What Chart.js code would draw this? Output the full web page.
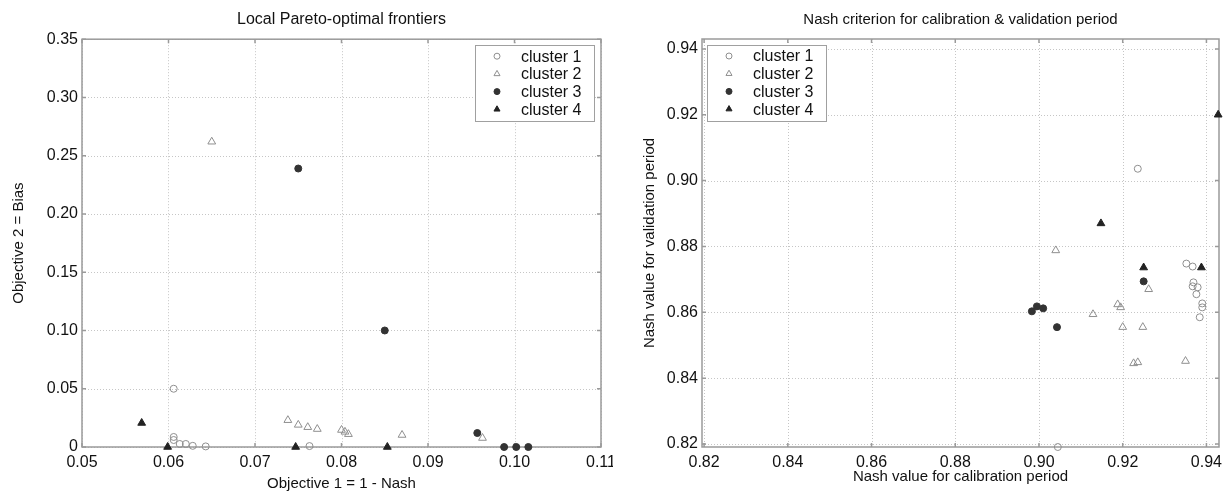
<!DOCTYPE html>
<html>
<head>
<meta charset="utf-8">
<script src="https://cdn.jsdelivr.net/npm/chart.js@4.4.1/dist/chart.umd.min.js"></script>
<style>
  html, body { margin: 0; padding: 0; background: #fff; }
  #pareto { position: absolute; left: 0; top: 0; }
  #nash { position: absolute; left: 613px; top: 0; }
</style>
</head>
<body>
<canvas id="pareto" width="613" height="499"></canvas>
<canvas id="nash" width="614" height="499"></canvas>
<script>
// ---- left panel: Local Pareto-optimal frontiers ----
var paretoC1x = [0.0606, 0.0606, 0.0606, 0.0613, 0.0620, 0.0628, 0.0643, 0.0763];
var paretoC1y = [0.050, 0.0086, 0.0060, 0.0026, 0.0026, 0.0010, 0.0005, 0.0008];
var paretoC2x = [0.0650, 0.0738, 0.0750, 0.0761, 0.0772, 0.0800, 0.0804, 0.0808, 0.0870, 0.0963];
var paretoC2y = [0.262, 0.023, 0.019, 0.017, 0.0154, 0.0146, 0.013, 0.011, 0.0103, 0.0077];
var paretoC3x = [0.0750, 0.0850, 0.0957, 0.0988, 0.1002, 0.1016];
var paretoC3y = [0.239, 0.100, 0.012, 0, 0, 0];
var paretoC4x = [0.0569, 0.0599, 0.0747, 0.0853];
var paretoC4y = [0.0206, 0, 0, 0];
var paretoXTicks = [0.05, 0.06, 0.07, 0.08, 0.09, 0.10, 0.11];
var paretoXLabels = ['0.05', '0.06', '0.07', '0.08', '0.09', '0.10', '0.11'];
var paretoYTicks = [0, 0.05, 0.10, 0.15, 0.20, 0.25, 0.30, 0.35];
var paretoYLabels = ['0', '0.05', '0.10', '0.15', '0.20', '0.25', '0.30', '0.35'];

// ---- right panel: Nash criterion for calibration & validation period ----
var nashC1x = [0.9236, 0.9352, 0.9367, 0.9369, 0.9367, 0.9379, 0.9376, 0.9390, 0.9390, 0.9384, 0.9045];
var nashC1y = [0.9036, 0.8748, 0.8739, 0.8691, 0.8679, 0.8676, 0.8655, 0.8627, 0.8615, 0.8585, 0.8191];
var nashC2x = [0.9040, 0.9262, 0.9129, 0.9188, 0.9195, 0.9200, 0.9248, 0.9226, 0.9236, 0.9350];
var nashC2y = [0.8788, 0.8670, 0.8594, 0.8624, 0.8615, 0.8555, 0.8555, 0.8445, 0.8448, 0.8452];
var nashC3x = [0.8983, 0.8995, 0.9010, 0.9043, 0.9250];
var nashC3y = [0.8603, 0.8618, 0.8612, 0.8555, 0.8694];
var nashC4x = [0.9148, 0.9250, 0.9388, 0.9428];
var nashC4y = [0.8870, 0.8736, 0.8736, 0.9200];
var nashTicks = [0.82, 0.84, 0.86, 0.88, 0.90, 0.92, 0.94];
var nashLabels = ['0.82', '0.84', '0.86', '0.88', '0.90', '0.92', '0.94'];

var clusterNames = ['cluster 1', 'cluster 2', 'cluster 3', 'cluster 4'];

var FONT = '"Liberation Sans", Arial, sans-serif';

function pts(xs, ys) {
  return xs.map(function (x, i) { return { x: x, y: ys[i] }; });
}

function clusterSets(c1, c2, c3, c4) {
  return [
    { label: clusterNames[0], data: c1, pointStyle: 'circle', pointRadius: 3.5, borderColor: '#8f8f8f', backgroundColor: 'transparent', borderWidth: 1, clip: false },
    { label: clusterNames[1], data: c2, pointStyle: 'triangle', pointRadius: 4.5, borderColor: '#8f8f8f', backgroundColor: 'transparent', borderWidth: 1, clip: false },
    { label: clusterNames[2], data: c3, pointStyle: 'circle', pointRadius: 3.5, borderColor: '#333', backgroundColor: '#333', borderWidth: 1, clip: false },
    { label: clusterNames[3], data: c4, pointStyle: 'triangle', pointRadius: 4.5, borderColor: '#222', backgroundColor: '#222', borderWidth: 1, clip: false }
  ];
}

// dotted grid, grey box and inward tick marks like the original figure
var framePlugin = {
  id: 'frame',
  beforeDatasetsDraw: function (chart) {
    var ctx = chart.ctx, a = chart.chartArea;
    var xs = chart.scales.x, ys = chart.scales.y;
    ctx.save();
    ctx.strokeStyle = '#c6c6c6';
    ctx.lineWidth = 1;
    ctx.setLineDash([1, 2]);
    ctx.beginPath();
    xs.ticks.forEach(function (t) {
      var p = Math.round(xs.getPixelForValue(t.value)) + 0.5;
      ctx.moveTo(p, a.top); ctx.lineTo(p, a.bottom);
    });
    ys.ticks.forEach(function (t) {
      var p = Math.round(ys.getPixelForValue(t.value)) + 0.5;
      ctx.moveTo(a.left, p); ctx.lineTo(a.right, p);
    });
    ctx.stroke();
    ctx.setLineDash([]);
    ctx.strokeStyle = '#9a9a9a';
    ctx.lineWidth = 1.5;
    ctx.strokeRect(a.left, a.top, a.right - a.left, a.bottom - a.top);
    ctx.beginPath();
    xs.ticks.forEach(function (t) {
      var p = xs.getPixelForValue(t.value);
      ctx.moveTo(p, a.bottom); ctx.lineTo(p, a.bottom - 4);
      ctx.moveTo(p, a.top); ctx.lineTo(p, a.top + 4);
    });
    ys.ticks.forEach(function (t) {
      var p = ys.getPixelForValue(t.value);
      ctx.moveTo(a.left, p); ctx.lineTo(a.left + 4, p);
      ctx.moveTo(a.right, p); ctx.lineTo(a.right - 4, p);
    });
    ctx.stroke();
    ctx.restore();
  }
};

// boxed legend inside the plot area
var boxLegend = {
  id: 'boxLegend',
  afterDatasetsDraw: function (chart, args, opts) {
    var ctx = chart.ctx, a = chart.chartArea;
    var w = 119, h = 76;
    var x0 = opts.side === 'right' ? a.right - 7 - w : a.left + 5;
    var y0 = a.top + 6;
    ctx.save();
    ctx.fillStyle = '#fff';
    ctx.fillRect(x0, y0, w, h);
    ctx.strokeStyle = '#a0a0a0';
    ctx.lineWidth = 1;
    ctx.strokeRect(Math.round(x0) + 0.5, Math.round(y0) + 0.5, w, h);
    chart.data.datasets.forEach(function (ds, i) {
      var cy = y0 + 11 + i * 17.7;
      ctx.fillStyle = ds.backgroundColor;
      ctx.strokeStyle = ds.borderColor;
      ctx.lineWidth = 1;
      Chart.helpers.drawPoint(ctx, {
        pointStyle: ds.pointStyle,
        radius: ds.pointStyle === 'triangle' ? 3.5 : 3,
        borderWidth: 1,
        rotation: 0
      }, x0 + 22, cy);
      ctx.fillStyle = '#111';
      ctx.font = '16px ' + FONT;
      ctx.textBaseline = 'middle';
      ctx.textAlign = 'left';
      ctx.fillText(ds.label, x0 + 46, cy + 1);
    });
    ctx.restore();
  }
};

function tickFont() { return { size: 16, family: FONT }; }

function buildChart(id, o) {
  return new Chart(document.getElementById(id), {
    type: 'scatter',
    data: { datasets: o.datasets },
    options: {
      responsive: false,
      animation: false,
      events: [],
      layout: { padding: { left: 0, right: o.padRight, top: 0, bottom: 0 } },
      plugins: {
        legend: { display: false },
        tooltip: { enabled: false },
        title: {
          display: true,
          fullSize: false,
          text: o.title,
          color: '#111',
          font: { size: o.titleSize, family: FONT, weight: 'normal' },
          padding: { top: o.titlePad, bottom: o.titlePad }
        },
        boxLegend: { side: o.legendSide }
      },
      scales: {
        x: {
          type: 'linear',
          min: o.xMin, max: o.xMax,
          afterBuildTicks: function (s) { s.ticks = o.xTicks.map(function (v) { return { value: v }; }); },
          afterFit: function (s) { s.height = 52; s.paddingLeft = 0; s.paddingRight = 0; },
          grid: { display: false, drawTicks: false },
          border: { display: false },
          ticks: {
            autoSkip: false, maxRotation: 0, padding: 6, color: '#111', font: tickFont(),
            callback: function (v, i) { return o.xLabels[i]; }
          },
          title: { display: true, text: o.xTitle, color: '#111', font: { size: 15, family: FONT }, padding: { top: 0, bottom: o.xTitlePad } }
        },
        y: {
          type: 'linear',
          min: o.yMin, max: o.yMax,
          afterBuildTicks: function (s) { s.ticks = o.yTicks.map(function (v) { return { value: v }; }); },
          afterFit: function (s) { s.width = o.yWidth; s.paddingTop = 0; s.paddingBottom = 0; },
          grid: { display: false, drawTicks: false },
          border: { display: false },
          ticks: {
            autoSkip: false, padding: 4, color: '#111', font: tickFont(),
            callback: function (v, i) { return o.yLabels[i]; }
          },
          title: { display: true, text: o.yTitle, color: '#111', font: { size: 15, family: FONT }, padding: { top: o.yTitlePad, bottom: 0 } }
        }
      }
    },
    plugins: [framePlugin, boxLegend]
  });
}

buildChart('pareto', {
  datasets: clusterSets(pts(paretoC1x, paretoC1y), pts(paretoC2x, paretoC2y), pts(paretoC3x, paretoC3y), pts(paretoC4x, paretoC4y)),
  title: 'Local Pareto-optimal frontiers', titleSize: 16, titlePad: 10,
  xTitle: 'Objective 1 = 1 - Nash', yTitle: 'Objective 2 = Bias',
  xMin: 0.05, xMax: 0.11, yMin: 0, yMax: 0.35,
  xTicks: paretoXTicks, xLabels: paretoXLabels, yTicks: paretoYTicks, yLabels: paretoYLabels,
  yWidth: 82, padRight: 12, xTitlePad: 6, yTitlePad: 10, legendSide: 'right'
});

buildChart('nash', {
  datasets: clusterSets(pts(nashC1x, nashC1y), pts(nashC2x, nashC2y), pts(nashC3x, nashC3y), pts(nashC4x, nashC4y)),
  title: 'Nash criterion for calibration & validation period', titleSize: 15, titlePad: 10.5,
  xTitle: 'Nash value for calibration period', yTitle: 'Nash value for validation period',
  xMin: 0.8195, xMax: 0.943, yMin: 0.8191, yMax: 0.943,
  xTicks: nashTicks, xLabels: nashLabels, yTicks: nashTicks, yLabels: nashLabels,
  yWidth: 89, padRight: 8, xTitlePad: 13, yTitlePad: 28, legendSide: 'left'
});
</script>
</body>
</html>
